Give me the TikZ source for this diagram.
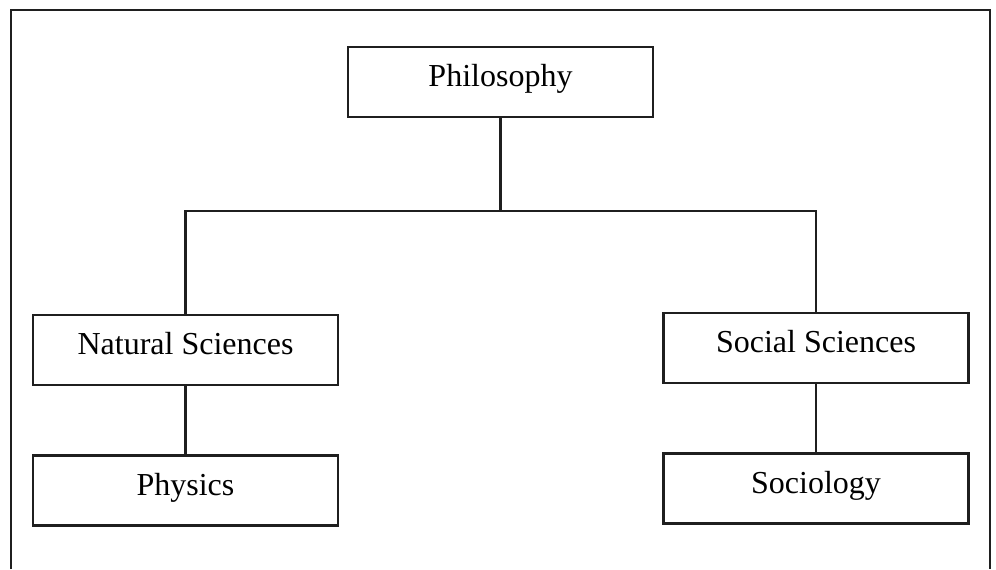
\documentclass[tikz,border=0pt]{standalone}
\usepackage{fontspec}
\setmainfont{Liberation Serif}
\usepackage{tikz}
\usetikzlibrary{positioning}

\begin{document}
\begin{tikzpicture}[x=0.75pt,y=-0.75pt,line width=2.2pt,draw=black!88,
                    box/.style={draw,rectangle,minimum width=228.75pt,minimum height=52.5pt,
                                text height=16pt,text depth=9pt,
                                font=\fontsize{24}{28}\selectfont},
                    node distance=51pt]
\useasboundingbox (0,0) rectangle (996,569);

% outer frame, open at the bottom
\draw[black!88] (11,569) -- (11,10) -- (990,10) -- (990,569);

\node[box] (PH) at (500.5,82)  {Philosophy};
\node[box] (NS) at (185.5,350) {Natural Sciences};
\node[box] (SS) at (816,348)   {Social Sciences};

\node[box] (PY) [below=of NS] {Physics};
\node[box] (SO) [below=of SS] {Sociology};

\coordinate (BAR) at (500.5,211);

\draw[black!88] (PH.south) -- (BAR);
\draw[black!88] (NS.north) |- (BAR) -| (SS.north);

\path[draw=black!88] (NS) edge (PY)
      (SS) edge (SO);
\end{tikzpicture}
\end{document}
